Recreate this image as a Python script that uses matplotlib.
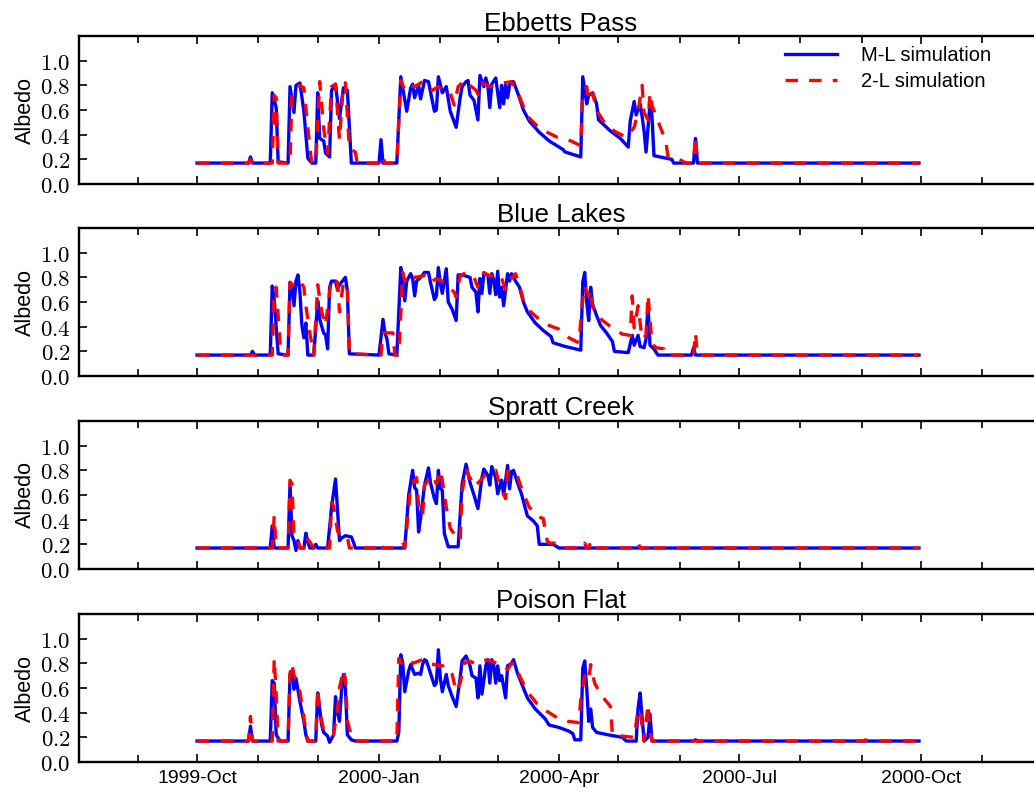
import matplotlib
matplotlib.use('Agg')
import matplotlib.pyplot as plt
import matplotlib.dates as mdates
from matplotlib.ticker import FuncFormatter
import numpy as np

plt.rcParams['font.family'] = ['Liberation Sans', 'DejaVu Sans']
plt.rcParams['mathtext.fontset'] = 'cm'
plt.rcParams['lines.scale_dashes'] = False

# water year 2000, day 0 = 1999-10-01
start = np.datetime64('1999-10-01')

sites = ['Ebbetts Pass', 'Blue Lakes', 'Spratt Creek', 'Poison Flat']

# (day, albedo) pairs, multi-layer snow model
ebbetts_ml = [(0, .17), (26, .17), (27, .22), (28, .17), (37, .17), (38, .74), (40, .62), (41, .18),
              (46, .17), (47, .79), (49, .58), (50, .80), (52, .82), (54, .59), (56, .21), (58, .17),
              (60, .17), (61, .74), (62, .37), (64, .35), (65, .25), (67, .22), (68, .76), (70, .81),
              (72, .53), (74, .78), (76, .76), (78, .17), (92, .17), (93, .36), (94, .17), (101, .17),
              (103, .87), (106, .59), (108, .78), (109, .81), (110, .70), (112, .80), (113, .69),
              (115, .84), (117, .83), (120, .59), (121, .60), (122, .87), (124, .74), (126, .79),
              (128, .59), (131, .46), (133, .70), (134, .79), (136, .83), (137, .84), (138, .72),
              (140, .68), (142, .52), (143, .88), (145, .79), (146, .86), (147, .80), (148, .62),
              (149, .81), (151, .86), (153, .62), (154, .80), (155, .65), (156, .81), (157, .70),
              (158, .80), (159, .83), (160, .83), (163, .70), (165, .60), (168, .51), (173, .42),
              (178, .35), (185, .28), (186, .26), (194, .22), (195, .87), (197, .65), (198, .72),
              (200, .74), (202, .65), (203, .52), (209, .43), (214, .37), (218, .30), (219, .51),
              (221, .67), (222, .56), (224, .65), (225, .55), (226, .43), (227, .26), (229, .65),
              (230, .55), (231, .23), (237, .21), (240, .20), (241, .17), (251, .17), (252, .37),
              (253, .17), (365, .17)]

blue_lakes_ml = [(0, .17), (27, .17), (28, .20), (29, .17), (37, .17), (38, .73), (39, .62), (41, .18),
                 (46, .17), (47, .76), (48, .73), (49, .57), (50, .77), (51, .82), (52, .68), (53, .41),
                 (54, .31), (55, .43), (56, .17), (59, .17), (61, .61), (62, .46), (64, .35), (65, .33),
                 (66, .22), (67, .72), (68, .77), (70, .77), (71, .70), (72, .74), (75, .80), (76, .69),
                 (77, .18), (92, .17), (94, .46), (95, .35), (96, .30), (97, .18), (101, .17), (103, .88),
                 (104, .76), (105, .61), (106, .77), (108, .83), (109, .79), (110, .65), (111, .77),
                 (113, .80), (115, .84), (117, .84), (118, .76), (120, .62), (121, .65), (122, .88),
                 (123, .75), (124, .67), (126, .87), (127, .60), (129, .54), (131, .45), (132, .82),
                 (134, .82), (138, .80), (139, .72), (141, .68), (142, .52), (143, .79), (144, .67),
                 (145, .83), (147, .82), (148, .67), (149, .83), (150, .78), (151, .66), (152, .85),
                 (153, .64), (154, .72), (155, .57), (157, .83), (158, .77), (159, .83), (161, .77),
                 (163, .72), (165, .60), (167, .52), (171, .43), (175, .37), (179, .32), (180, .27),
                 (186, .24), (194, .21), (195, .76), (196, .84), (197, .60), (198, .45), (199, .72),
                 (200, .58), (202, .49), (204, .41), (207, .35), (210, .28), (211, .20), (218, .19),
                 (220, .33), (221, .25), (223, .33), (224, .24), (226, .23), (227, .30), (228, .57),
                 (229, .25), (231, .22), (233, .17), (250, .17), (251, .23), (252, .17), (365, .17)]

spratt_ml = [(0, .17), (37, .17), (38, .35), (39, .17), (46, .17), (47, .69), (48, .27), (49, .23),
             (50, .15), (51, .23), (52, .17), (54, .17), (55, .29), (56, .22), (57, .17), (59, .17),
             (60, .20), (61, .17), (66, .17), (68, .50), (70, .73), (72, .23), (73, .25), (75, .27),
             (78, .26), (79, .22), (80, .17), (105, .17), (107, .60), (109, .80), (110, .66),
             (111, .64), (112, .30), (113, .41), (115, .68), (117, .82), (118, .70), (120, .57),
             (121, .53), (122, .80), (123, .65), (124, .64), (125, .29), (127, .18), (132, .18),
             (134, .69), (136, .85), (138, .70), (140, .60), (142, .49), (144, .74), (145, .81),
             (147, .76), (148, .68), (149, .83), (151, .74), (152, .61), (154, .72), (155, .60),
             (157, .84), (158, .65), (159, .79), (160, .80), (162, .70), (164, .61), (167, .43),
             (170, .39), (172, .35), (173, .20), (180, .20), (183, .17), (365, .17)]

poison_ml = [(0, .17), (26, .17), (27, .29), (28, .17), (37, .17), (38, .66), (39, .64), (40, .22),
             (42, .17), (46, .17), (47, .71), (48, .74), (49, .59), (50, .68), (52, .49), (54, .33),
             (55, .22), (56, .17), (60, .17), (61, .56), (63, .30), (64, .24), (66, .21), (67, .16),
             (69, .22), (70, .53), (71, .41), (72, .33), (73, .57), (74, .71), (75, .60), (76, .22),
             (78, .18), (80, .17), (101, .17), (102, .24), (103, .87), (104, .80), (105, .57),
             (107, .74), (108, .79), (109, .75), (110, .71), (112, .72), (113, .71), (114, .79),
             (115, .83), (116, .82), (118, .72), (120, .62), (121, .64), (122, .91), (123, .68),
             (124, .57), (126, .71), (127, .62), (129, .53), (131, .45), (133, .68), (134, .82),
             (136, .86), (138, .78), (139, .70), (141, .68), (142, .52), (143, .78), (144, .55),
             (146, .78), (147, .83), (148, .64), (149, .83), (150, .78), (151, .64), (152, .78),
             (153, .66), (154, .70), (156, .52), (157, .78), (159, .80), (160, .83), (162, .72),
             (164, .64), (167, .52), (171, .43), (176, .35), (178, .30), (183, .28), (188, .25),
             (190, .23), (191, .18), (194, .18), (195, .76), (196, .82), (197, .60), (198, .33),
             (199, .43), (200, .28), (202, .24), (208, .22), (215, .20), (217, .17), (222, .17),
             (223, .44), (224, .56), (226, .17), (228, .20), (229, .39), (230, .17), (251, .17),
             (252, .18), (253, .17), (365, .17)]

# (day, albedo) pairs, two-layer snow model
ebbetts_2l = [(0, .17), (26, .17), (27, .20), (28, .17), (38, .17), (39, .72), (40, .70), (41, .17),
              (47, .17), (48, .75), (50, .79), (52, .80), (54, .78), (57, .30), (58, .17), (60, .17),
              (62, .83), (64, .45), (66, .25), (68, .79), (70, .81), (72, .36), (74, .82), (75, .82),
              (77, .29), (80, .26), (81, .17), (93, .17), (94, .22), (95, .17), (101, .17), (103, .84),
              (105, .76), (107, .80), (110, .79), (114, .83), (119, .76), (122, .79), (125, .76),
              (128, .74), (130, .64), (132, .79), (134, .82), (136, .84), (138, .80), (141, .76),
              (142, .73), (144, .82), (148, .79), (152, .80), (155, .82), (159, .83), (162, .75),
              (167, .55), (172, .47), (177, .42), (182, .38), (189, .35), (194, .31), (195, .74),
              (197, .79), (198, .67), (200, .74), (202, .60), (207, .47), (212, .42), (217, .38),
              (221, .46), (223, .59), (225, .80), (226, .58), (228, .52), (229, .74), (230, .64),
              (233, .51), (237, .35), (238, .23), (243, .21), (247, .17), (251, .17), (252, .39),
              (253, .17), (365, .17)]

blue_lakes_2l = [(0, .17), (38, .17), (39, .70), (40, .72), (42, .26), (43, .17), (46, .17), (47, .76),
                 (49, .73), (52, .77), (54, .72), (55, .57), (57, .35), (59, .17), (61, .74), (63, .52),
                 (65, .41), (67, .68), (68, .79), (71, .76), (72, .52), (74, .76), (76, .72), (77, .18),
                 (93, .17), (94, .35), (97, .35), (99, .35), (100, .17), (102, .17), (104, .84),
                 (105, .77), (108, .83), (110, .80), (114, .81), (116, .83), (119, .77), (121, .79),
                 (124, .77), (126, .74), (130, .68), (131, .64), (133, .81), (136, .84), (140, .80),
                 (142, .72), (145, .84), (148, .81), (152, .83), (154, .79), (156, .70), (157, .76),
                 (161, .83), (163, .74), (165, .61), (168, .53), (173, .46), (178, .41), (183, .38),
                 (188, .31), (193, .27), (195, .62), (196, .73), (198, .65), (199, .70), (200, .56),
                 (202, .50), (205, .45), (210, .39), (215, .34), (219, .33), (220, .65), (221, .39),
                 (223, .57), (225, .30), (227, .33), (228, .66), (230, .26), (232, .23), (236, .22),
                 (237, .17), (251, .17), (252, .35), (253, .17), (365, .17)]

spratt_2l = [(0, .17), (38, .17), (39, .43), (40, .17), (46, .17), (47, .72), (48, .69), (49, .25),
             (51, .23), (52, .17), (54, .17), (55, .26), (57, .22), (59, .17), (67, .17), (68, .54),
             (69, .51), (71, .31), (72, .27), (76, .26), (77, .17), (92, .17), (93, .21), (94, .17),
             (103, .17), (104, .20), (105, .17), (107, .49), (108, .68), (111, .74), (112, .52),
             (114, .43), (115, .68), (118, .74), (119, .76), (121, .69), (123, .80), (124, .72),
             (126, .50), (128, .33), (131, .26), (133, .23), (134, .62), (136, .81), (138, .73),
             (140, .74), (141, .68), (144, .73), (146, .77), (151, .80), (153, .68), (156, .57),
             (157, .79), (160, .80), (162, .75), (165, .61), (168, .50), (173, .42), (175, .41),
             (177, .23), (178, .21), (183, .21), (185, .17), (195, .17), (196, .21), (197, .17),
             (198, .17), (199, .22), (200, .17), (222, .17), (223, .21), (224, .17), (228, .17),
             (229, .21), (230, .17), (365, .17)]

poison_2l = [(0, .17), (26, .17), (27, .37), (28, .17), (38, .17), (39, .84), (40, .55), (41, .17),
             (46, .17), (47, .72), (48, .80), (49, .70), (52, .57), (54, .36), (55, .26), (56, .17),
             (60, .17), (61, .60), (62, .41), (64, .26), (67, .24), (69, .22), (71, .43), (72, .60),
             (74, .75), (75, .67), (76, .33), (78, .22), (80, .17), (101, .17), (102, .84),
             (104, .79), (107, .83), (109, .80), (114, .83), (116, .80), (120, .79), (123, .78),
             (126, .78), (129, .71), (131, .57), (133, .64), (135, .80), (137, .82), (141, .80),
             (145, .83), (148, .82), (152, .80), (155, .79), (157, .75), (159, .80), (161, .79),
             (163, .70), (167, .57), (172, .47), (177, .41), (182, .36), (187, .33), (193, .32),
             (194, .51), (196, .70), (198, .66), (199, .79), (201, .64), (204, .55), (207, .49),
             (209, .45), (210, .22), (215, .21), (221, .20), (223, .43), (224, .41), (226, .17),
             (228, .47), (229, .25), (230, .17), (337, .17), (338, .18), (339, .17), (365, .17)]

ml_runs = [ebbetts_ml, blue_lakes_ml, spratt_ml, poison_ml]
tl_runs = [ebbetts_2l, blue_lakes_2l, spratt_2l, poison_2l]

yticks = [0.0, 0.2, 0.4, 0.6, 0.8, 1.0]


def unpack(pairs):
    day, alb = zip(*pairs)
    return start + np.array(day).astype('timedelta64[D]'), np.array(alb)


fig = plt.figure(figsize=(10.34, 7.96), dpi=100)
bottoms = [0.7688, 0.5276, 0.2852, 0.0427]
x0 = mdates.date2num(start) - 59.7

for i, name in enumerate(sites):
    ax = fig.add_axes([0.0764, bottoms[i], 0.9323, 0.1859])
    t, a = unpack(ml_runs[i])
    ax.plot(t, a, color='blue', lw=2.4, label='M-L simulation')
    t, a = unpack(tl_runs[i])
    ax.plot(t, a, color='red', lw=2.4, ls=(0, (9, 8)), label='2-L simulation')

    ax.set_xlim(x0, x0 + 487.4)
    ax.set_ylim(0, 1.2)
    ax.set_yticks(yticks)
    ax.yaxis.set_major_formatter(FuncFormatter(lambda v, p: r'$%.1f$' % v))
    ax.xaxis.set_major_locator(mdates.MonthLocator(bymonth=[1, 4, 7, 10]))
    ax.xaxis.set_minor_locator(mdates.MonthLocator())
    ax.xaxis.set_major_formatter(mdates.DateFormatter('%Y-%b'))

    ax.tick_params(which='both', direction='in', top=True, right=True, width=1.2)
    ax.tick_params(which='major', length=6)
    ax.tick_params(which='minor', length=5)
    ax.tick_params(axis='y', labelsize=16.5, pad=6)
    ax.tick_params(axis='x', labelsize=14, pad=6)
    if i < 3:
        ax.tick_params(axis='x', labelbottom=False)
    for sp in ax.spines.values():
        sp.set_linewidth(1.7)

    ax.set_ylabel('Albedo', fontsize=15.5, labelpad=3)
    ax.set_title(name, fontsize=18.7, pad=4)

    if i == 0:
        ax.legend(loc='upper right', bbox_to_anchor=(0.957, 1.0), frameon=False,
                  fontsize=14.5, handlelength=2.6, handletextpad=1.2,
                  borderaxespad=0.1, labelspacing=0.35)

fig.savefig('out.png', dpi=100)
